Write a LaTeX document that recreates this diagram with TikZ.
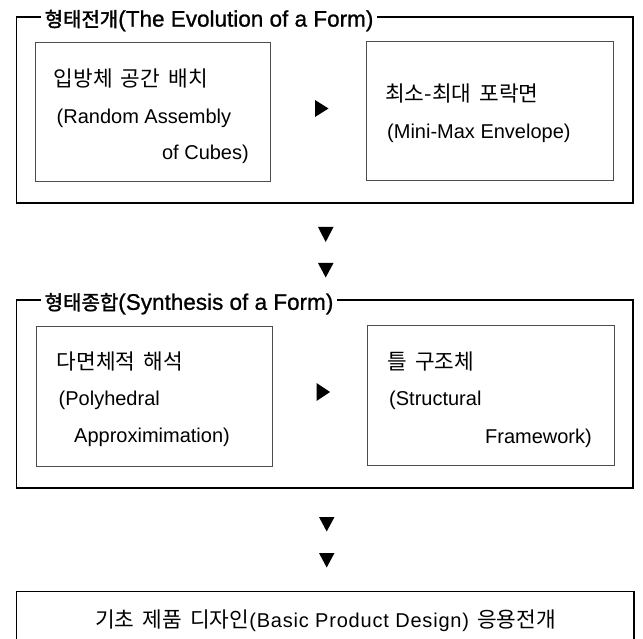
\documentclass[tikz,border=0pt]{standalone}
\usepackage{fontspec}
\setmainfont{Liberation Sans}
\newfontfamily\kr{Noto Sans CJK KR}[Scale=1.07,WordSpace=1.7]
\newfontfamily\krb{Noto Sans CJK KR}[FakeBold=1.8]
\newfontfamily\ttlf{Liberation Sans}[FakeBold=0.9]
\newfontfamily\wide{Liberation Sans}[LetterSpace=4]
\begin{document}
\begin{tikzpicture}[x=1pt,y=-1pt,
  outer/.style={draw=black,line width=1.8pt},
  inner/.style={draw=black!70,line width=0.7pt},
  txt/.style={font=\fontsize{20}{24}\selectfont,inner sep=0pt,anchor=base west},
  ttl/.style={font=\ttlf\fontsize{22.5}{26}\selectfont,fill=white,inner xsep=3.5pt,inner ysep=2pt,anchor=base west},
  tri/.style={fill=black}]
\useasboundingbox (0,0) rectangle (643,639);
% ---- box 1
\draw[outer] (16.5,17.2) rectangle (633,203);
\node[ttl] (t1) at (41,26.6) {{\krb\fontsize{20}{24}\selectfont 형태전개}(The Evolution of a Form)};
\draw[inner] (35,42.2) rectangle (270.5,181.6);
\draw[inner] (366,41) rectangle (613.5,180.3);
\node[txt] (a1) at (53.5,86.5) {\kr 입방체 공간 배치};
\node[txt] (a2) at (56.5,123.5) {(Random Assembly};
\node[txt,anchor=base east] (a3) at (249,159.5) {of Cubes)};
\node[txt] (b1) at (385,102) {\kr 최소-최대 포락면};
\node[txt] (b2) at (387,139) {(Mini-Max Envelope)};
\fill[tri] (315,100) -- (328.5,108.5) -- (315,117) -- cycle;
% ---- arrows down
\fill[tri] (318,227) -- (333.5,227) -- (325.7,242) -- cycle;
\fill[tri] (318,263) -- (333.5,263) -- (325.7,277.5) -- cycle;
% ---- box 2
\draw[outer] (16.5,300.4) rectangle (633,487.7);
\node[ttl] (t2) at (41,309.8) {{\krb\fontsize{20}{24}\selectfont 형태종합}(Synthesis of a Form)};
\draw[inner] (36,326.6) rectangle (272.5,466);
\draw[inner] (367.6,325.8) rectangle (614.8,465);
\node[txt] (c1) at (56.5,369.5) {\kr 다면체적 해석};
\node[txt] (c2) at (58.5,405.5) {(Polyhedral};
\node[txt] (c3) at (74,442.5) {Approximimation)};
\node[txt] (e1) at (387,369.5) {\kr 틀 구조체};
\node[txt] (e2) at (389,405) {(Structural};
\node[txt,anchor=base east] (e3) at (592,443) {Framework)};
\fill[tri] (316.5,383) -- (330,392) -- (316.5,401) -- cycle;
% ---- arrows down
\fill[tri] (319,517) -- (334.5,517) -- (326.7,531.5) -- cycle;
\fill[tri] (319,553) -- (334.5,553) -- (326.7,567.5) -- cycle;
% ---- bottom box
\draw[outer] (16.5,591.4) rectangle (634,650);
\node[txt,anchor=base] (f) at (325.5,627) {{\kr 기초 제품 디자인}{\wide(Basic Product Design)}\hspace{8pt}{\kr 응용전개}};
\end{tikzpicture}
\end{document}
